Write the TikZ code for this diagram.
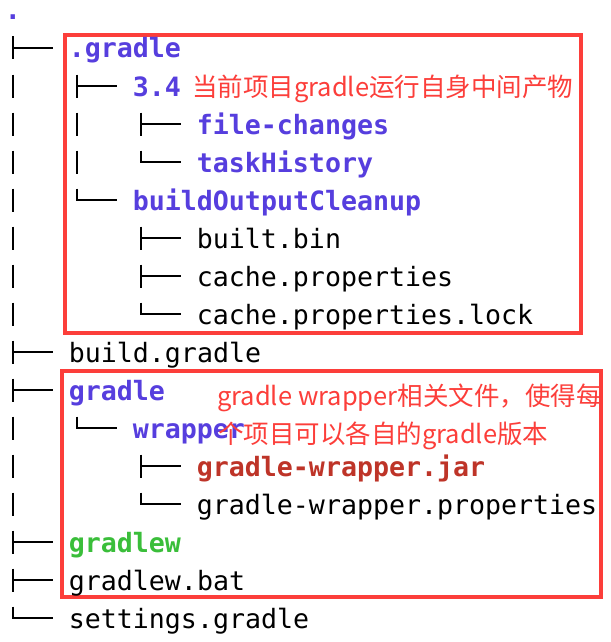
\documentclass[tikz,border=0pt]{standalone}
\usepackage{fontspec}
\newfontfamily\mono{DejaVu Sans Mono}
\newfontfamily\cjk{Noto Sans CJK SC}
\definecolor{dirblue}{RGB}{86,62,222}
\definecolor{boxred}{RGB}{252,62,58}
\definecolor{jarred}{RGB}{190,52,40}
\definecolor{exegreen}{RGB}{58,190,58}
\tikzset{
  entry/.style={anchor=base west, inner sep=0pt, text=black, font=\mono\fontsize{26.6}{30}\selectfont},
  dirent/.style={entry, text=dirblue, font=\mono\bfseries\fontsize{26.6}{30}\selectfont},
  jarent/.style={entry, text=jarred, font=\mono\bfseries\fontsize{26.6}{30}\selectfont},
  exeent/.style={entry, text=exegreen, font=\mono\bfseries\fontsize{26.6}{30}\selectfont},
  note/.style={anchor=base west, inner sep=0pt, text=boxred, font=\cjk\fontsize{25.5}{38}\selectfont},
  tree/.style={line width=2.2pt, black},
  redbox/.style={draw=boxred, line width=4pt}
}
\newcommand\TrBar[2]{\draw[tree] ({12.7+16*#1},{10+38*#2-11.5}) -- ++(0,23);}
\newcommand\TrTee[2]{\TrBar{#1}{#2}\draw[tree] ({12.7+16*#1},{10+38*#2}) -- ++(40,0);}
\newcommand\TrEnd[2]{\draw[tree] ({12.7+16*#1},{10+38*#2-11.5}) |- ++(40,11.5);}
\begin{document}
\begin{tikzpicture}[x=1pt,y=-1pt]
\useasboundingbox[fill=white] (0,0) rectangle (610,642);
% red frames
\draw[redbox] (65,35) rectangle (581,333);
\draw[redbox] (62,371) rectangle (601,597);
% tree lines
\TrTee{0}{1}
\TrBar{0}{2}\TrTee{4}{2}
\TrBar{0}{3}\TrBar{4}{3}\TrTee{8}{3}
\TrBar{0}{4}\TrBar{4}{4}\TrEnd{8}{4}
\TrBar{0}{5}\TrEnd{4}{5}
\TrBar{0}{6}\TrTee{8}{6}
\TrBar{0}{7}\TrTee{8}{7}
\TrBar{0}{8}\TrEnd{8}{8}
\TrTee{0}{9}
\TrTee{0}{10}
\TrBar{0}{11}\TrEnd{4}{11}
\TrBar{0}{12}\TrTee{8}{12}
\TrBar{0}{13}\TrEnd{8}{13}
\TrTee{0}{14}
\TrTee{0}{15}
\TrEnd{0}{16}
% entries
\node[dirent] (root) at (4.7,20) {.};
\node[dirent] (dg) at (68.7,58) {.gradle};
\node[dirent] (v34) at (132.7,96) {3.4};
\node[dirent] (fc) at (196.7,134) {file-changes};
\node[dirent] (th) at (196.7,172) {taskHistory};
\node[dirent] (boc) at (132.7,210) {buildOutputCleanup};
\node[entry] (bb) at (196.7,248) {built.bin};
\node[entry] (cp) at (196.7,286) {cache.properties};
\node[entry] (cpl) at (196.7,324) {cache.properties.lock};
\node[entry] (bg) at (68.7,362) {build.gradle};
\node[dirent] (gr) at (68.7,400) {gradle};
\node[dirent] (wr) at (132.7,438) {wrapper};
\node[jarent] (jar) at (196.7,476) {gradle-wrapper.jar};
\node[entry] (wp) at (196.7,514) {gradle-wrapper.properties};
\node[exeent] (gw) at (68.7,552) {gradlew};
\node[entry] (gwb) at (68.7,590) {gradlew.bat};
\node[entry] (sg) at (68.7,628) {settings.gradle};
% notes
\node[note] (n1) at (192,96) {当前项目gradle运行自身中间产物};
\node[note] (n2a) at (217,405) {gradle wrapper相关文件，使得每};
\node[note] (n2b) at (218,443) {个项目可以各自的gradle版本};
\end{tikzpicture}
\end{document}
